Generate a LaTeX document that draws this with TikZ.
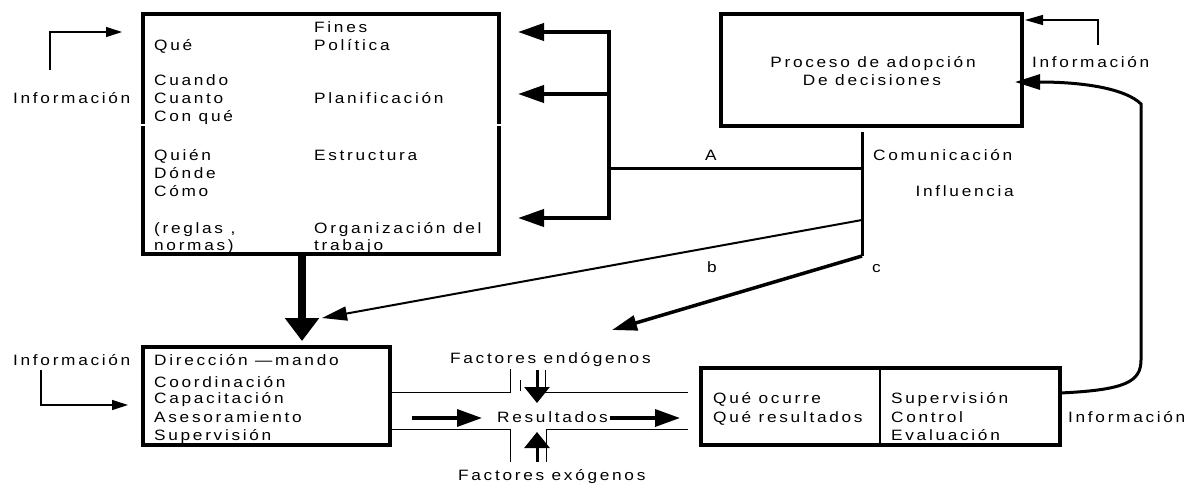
\documentclass[tikz,border=0pt]{standalone}
\usepackage{fontspec}
\setmainfont{Liberation Sans}[LetterSpace=18,FakeStretch=1.15]
\usetikzlibrary{arrows.meta}
\begin{document}
\begin{tikzpicture}[x=1pt,y=-1pt,
  txt/.style={inner sep=0pt, anchor=base west, font=\fontsize{15}{18}\selectfont},
  ctxt/.style={txt, anchor=base},
  box/.style={draw, line width=3.5pt, inner sep=0pt},
  thinline/.style={line width=1pt},
  infoarrow/.style={line width=1.2pt, -{Triangle[length=16pt,width=10pt]}},
  brackarrow/.style={line width=4pt, -{Triangle[length=26pt,width=17pt]}},
  midarrow/.style={line width=3.5pt, -{Triangle[length=25pt,width=17pt]}},
  factarrow/.style={line width=3pt, -{Triangle[length=16pt,width=25pt]}}]
\useasboundingbox (0,0) rectangle (1203,485);

% ---------- boxes
\node[box, minimum width=356pt, minimum height=240pt] (plan) at (321,134) {};
\node[box, minimum width=301pt, minimum height=112pt] (dec) at (871.5,70) {};
\node[box, minimum width=247pt, minimum height=98pt] (dir) at (266.5,396) {};
\node[box, minimum width=359pt, minimum height=77pt] (sup) at (880.5,406.5) {};
\draw[white, line width=1.2pt] (139,125) -- (147,125) (495,125) -- (503,125);
\coordinate (divx) at (880,0);
\draw[line width=1.5pt] (sup.north -| divx) -- (sup.south -| divx);

% ---------- top-left box text
\node[txt] (fines) at (314,32) {Fines};
\node[txt] (que) at (154,50) {Qué};
\node[txt] (pol) at (314,50) {Política};
\node[txt] (cuando) at (154,85) {Cuando};
\node[txt] (cuanto) at (154,103) {Cuanto};
\node[txt] (plani) at (314,103) {Planificación};
\node[txt] (conque) at (154,121) {Con qué};
\node[txt] (quien) at (154,160) {Quién};
\node[txt] (estr) at (314,160) {Estructura};
\node[txt] (donde) at (154,178) {Dónde};
\node[txt] (como) at (154,196) {Cómo};
\node[txt] (reglas) at (154,233) {(reglas ,};
\node[txt] (org) at (314,233) {Organización del};
\node[txt] (normas) at (154,250) {normas)};
\node[txt] (trab) at (314,250) {trabajo};

% ---------- left information arrows
\node[txt] (info1) at (13,103) {Información};
\coordinate (i1a) at (50,70);
\coordinate (i1b) at (122,32);
\draw[infoarrow] (i1a) |- (i1b);
\node[txt] (info2) at (13,365) {Información};
\coordinate (i2a) at (41,370);
\coordinate (i2b) at (128,405);
\draw[infoarrow] (i2a) |- (i2b);

% ---------- bracket arrows into top-left box
\coordinate (br1) at (609,32);
\coordinate (br2) at (609,94);
\coordinate (brA) at (609,168);
\coordinate (br3) at (609,218);
\coordinate (t1) at (518,32);
\coordinate (t2) at (518,94);
\coordinate (t3) at (518,218);
\draw[line width=4pt, line cap=rect] (br1) -- (br3);
\draw[brackarrow] (br1) -- (t1);
\draw[brackarrow] (br2) -- (t2);
\draw[brackarrow] (br3) -- (t3);

% ---------- decision box and communication lines
\node[ctxt] (proc) at (873,67) {Proceso de adopción};
\node[ctxt] (dedec) at (872,85) {De decisiones};
\coordinate (vtop) at (862,132);
\coordinate (vA) at (862,168);
\coordinate (vb) at (862,220);
\coordinate (vbot) at (862,256);
\draw[line width=3pt] (vtop) -- (vbot);
\draw[line width=3pt] (brA) -- (vA);
\node[txt] (lA) at (705,160) {A};
\node[txt] (com) at (873,160) {Comunicación};
\node[txt, anchor=base east] (infl) at (1014,196) {Influencia};
\node[txt] (lb) at (707,272) {b};
\node[txt] (lc) at (872,272) {c};
\coordinate (btip) at (322,318);
\coordinate (ctip) at (612,330);
\draw[line width=2pt, -{Triangle[length=25pt,width=14pt]}] (vb) -- (btip);
\draw[line width=3.5pt, -{Triangle[length=25pt,width=15pt]}] (vbot) -- (ctip);

% ---------- heavy arrow
\coordinate (htip) at (302,341);
\draw[line width=8pt, -{Triangle[length=23pt,width=33pt]}] (plan.south -| htip) -- (htip);

% ---------- top-right information
\node[txt] (info3) at (1032,67) {Información};
\coordinate (i3a) at (1098,45);
\coordinate (i3b) at (1025,20);
\draw[line width=1.2pt, -{Triangle[length=18pt,width=10pt]}] (i3a) |- (i3b);

% ---------- return curve
\coordinate (r0) at (1060,393);
\coordinate (rtip) at (1015,82);
\draw[line width=3pt, -{Triangle[length=25pt,width=15pt]}]
  (r0) .. controls (1125,390) and (1141,382) .. (1141,360) -- (1141,104)
  .. controls (1126,89) and (1085,82) .. (rtip);

% ---------- bottom-left box text
\node[txt] (d1) at (154,365) {Dirección —mando};
\node[txt] (d2) at (154,387) {Coordinación};
\node[txt] (d3) at (154,403) {Capacitación};
\node[txt] (d4) at (154,422) {Asesoramiento};
\node[txt] (d5) at (154,440) {Supervisión};

% ---------- middle channel
\node[txt] (endo) at (450,363) {Factores endógenos};
\node[txt] (exo) at (458,480) {Factores exógenos};
\node[txt] (res) at (497,422) {Resultados};
\coordinate (ul) at (510,392);
\coordinate (ur) at (545,392);
\coordinate (ll) at (510,429);
\coordinate (lr) at (546,429);
\draw[thinline] (dir.east |- ul) -- (ul) -- (510,369);
\draw[thinline] (545,370) -- (ur) -- (688,392);
\draw[thinline] (dir.east |- ll) -- (ll) -- (510,462);
\draw[thinline] (546,462) -- (lr) -- (688,429);
\draw[thinline] (520,380) -- (520,391);
\coordinate (en0) at (537,370);
\coordinate (en1) at (537,403);
\coordinate (ex0) at (537,462);
\coordinate (ex1) at (537,432);
\draw[factarrow] (en0) -- (en1);
\draw[factarrow] (ex0) -- (ex1);
\coordinate (ra0) at (412,418);
\coordinate (ra1) at (482,418);
\coordinate (rb0) at (610,418);
\coordinate (rb1) at (680,418);
\draw[midarrow] (ra0) -- (ra1);
\draw[midarrow] (rb0) -- (rb1);

% ---------- bottom-right box text
\node[txt] (q1) at (713,403) {Qué ocurre};
\node[txt] (q2) at (713,422) {Qué resultados};
\node[txt] (s1) at (891,403) {Supervisión};
\node[txt] (s2) at (891,422) {Control};
\node[txt] (s3) at (891,440) {Evaluación};
\node[txt] (info4) at (1068,422) {Información};
\end{tikzpicture}
\end{document}
